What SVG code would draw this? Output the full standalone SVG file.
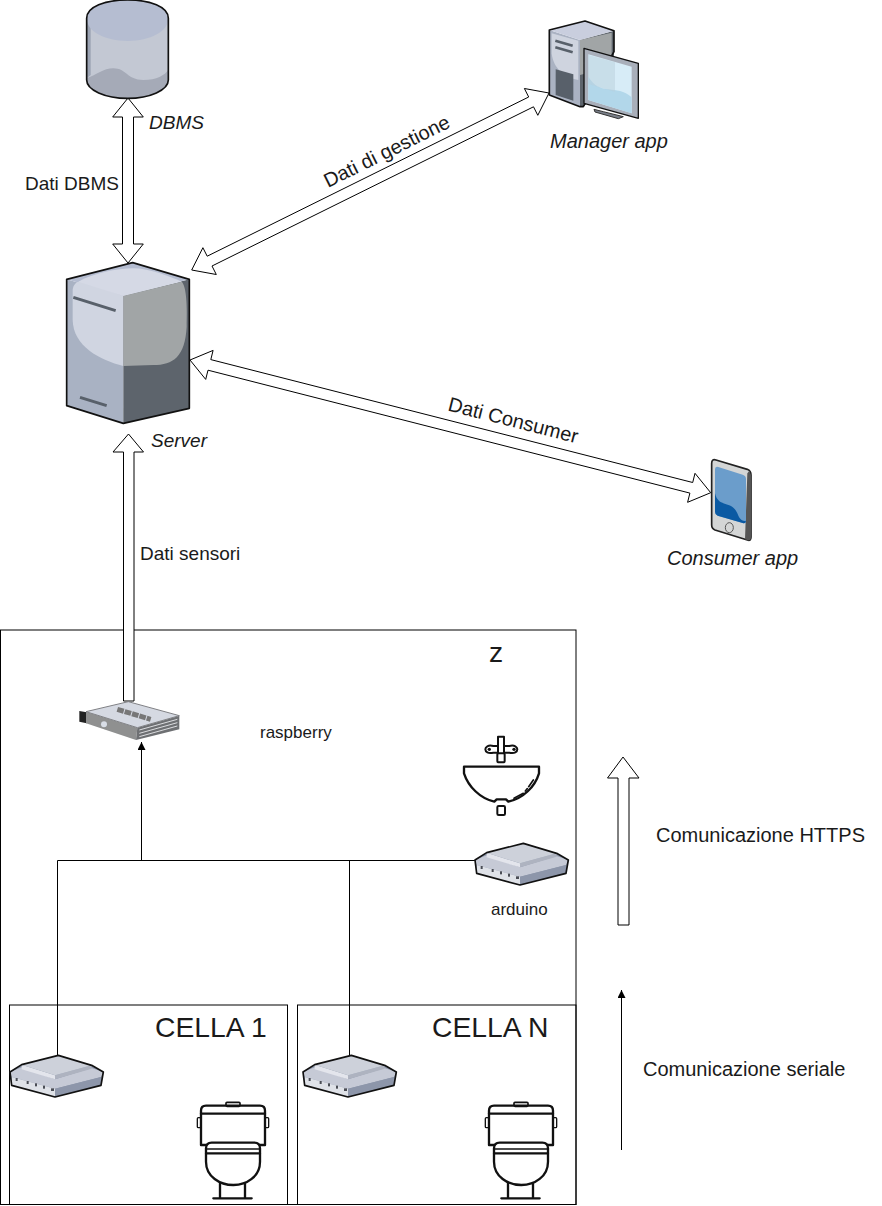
<svg xmlns="http://www.w3.org/2000/svg" width="882" height="1206" viewBox="0 0 882 1206">
<style>
text{font-family:"Liberation Sans",Arial,sans-serif;fill:#1a1a1a}
.t{font-size:20px}
.n{font-size:19px}
.i{font-size:20px;font-style:italic}
.j{font-size:19px;font-style:italic}
.s{font-size:17px}
.c{font-size:28.3px}
.box{fill:none;stroke:#000;stroke-width:1}
.flex{fill:#fff;stroke:#000;stroke-width:1;stroke-linejoin:miter}
.line{fill:none;stroke:#000;stroke-width:1}
.ic{fill:none;stroke:#111;stroke-width:7;stroke-linejoin:round;stroke-linecap:round}
.ol{fill:none;stroke:#111;stroke-width:5;stroke-linejoin:round}
</style>
<defs>
<marker id="ah" markerWidth="9" markerHeight="9" refX="8" refY="4" orient="auto" markerUnits="userSpaceOnUse"><path d="M0,0 L8,4 L0,8 Z" fill="#000"/></marker>
<g id="hub">
<path d="M105,390 L140,368 L250,340 L350,370 L385,390 L378,430 L240,465 L110,430 Z" fill="#8d96aa"/>
<polygon points="105,390 140,376 240,412 350,378 385,390 378,405 240,440 110,405" fill="#c6cad6"/>
<polygon points="110,405 240,440 240,465 110,430" fill="#dfe2e8"/>
<polygon points="240,440 378,405 378,430 240,465" fill="#8d96aa"/>
<polygon points="140,368 240,400 240,412 140,382" fill="#e3e5ec"/>
<polygon points="240,400 350,370 350,380 240,412" fill="#aeb3c0"/>
<polygon points="140,368 250,340 350,370 240,400" fill="#cdd1da"/>
<g fill="#4a4d55"><rect x="122" y="408" width="6" height="9"/><rect x="155" y="417" width="6" height="9"/><rect x="180" y="424" width="6" height="9"/><rect x="204" y="431" width="6" height="9"/><rect x="228" y="439" width="9" height="8"/></g>
<path d="M105,390 L140,368 L250,340 L350,370 L385,390 L378,430 L240,465 L110,430 Z" class="ol"/>
</g>
<g id="toilet">
<rect x="138" y="37" width="42" height="12" rx="3" class="ic" style="stroke-width:5"/>
<path d="M78,165 L63,165 L63,62 Q63,47 78,47 L240,47 Q255,47 255,62 L255,165 L240,165" class="ic"/>
<path d="M63,71 L255,71" class="ic"/>
<rect x="52" y="83" width="10" height="30" rx="3" class="ic" style="stroke-width:4"/>
<rect x="256" y="83" width="10" height="30" rx="3" class="ic" style="stroke-width:4"/>
<path d="M78,190 L78,175 Q78,158 95,158 L223,158 Q240,158 240,175 L240,190 Z" class="ic" fill="#fff"/>
<path d="M78,177 L240,177" class="ic" style="stroke-width:5"/>
<path d="M78,190 L78,215 C78,260 120,285 160,285 C200,285 240,260 240,215 L240,190" class="ic"/>
<path d="M120,280 L120,325 M195,280 L195,325 M100,325 L215,325" class="ic"/>
</g>
</defs>

<g id="containers">
<rect id="zone" x="0.5" y="630" width="575.5" height="574.5" class="box"/>
<rect id="cell1-box" x="9.5" y="1005" width="278" height="199.5" class="box"/>
<rect id="cellN-box" x="297.5" y="1005" width="278.5" height="199.5" class="box"/>
</g>

<g id="connectors">
<polygon class="flex" points="128,98 143.3,117 133.5,117 133.5,244 143.3,244 128,263 112.7,244 122.5,244 122.5,117 112.7,117"/>
<polygon class="flex" points="191.7,270 216.3,274.5 212,266 533.5,106.8 537.8,115.3 549,93 524.4,88.5 528.7,97 207.2,256.2 202.9,247.7"/>
<polygon class="flex" points="190,360 205.7,379.4 208,370.2 689.9,493.1 687.6,502.3 710.7,492.7 695,473.3 692.7,482.5 210.8,359.6 213.1,350.4"/>
<polygon class="flex" points="128.5,434 143.5,452 134,452 134,701 123.5,701 123.5,452 113,452"/>
<polygon class="flex" points="623,757 639,778 629,778 629,925 618,925 618,778 607.5,778"/>
<path class="line" d="M57.5,1055 L57.5,860.5 L475,860.5"/>
<path class="line" d="M349.5,1055 L349.5,860.5"/>
<path class="line" d="M141.5,860.5 L141.5,742" marker-end="url(#ah)"/>
<path class="line" d="M621.5,1150 L621.5,990" marker-end="url(#ah)"/>
</g>

<g id="dbms" transform="translate(40,0) scale(.33333)">
<path d="M140,55 C140,20 195,0 263,0 C330,0 385,20 385,55 L385,240 C385,270 330,295 263,295 C195,295 140,270 140,240 Z" fill="#c3c8d3"/>
<path d="M140,60 L152,80 L152,225 L140,235 Z" fill="#9ba3b3"/>
<path d="M140,235 C170,225 190,205 220,205 C260,205 260,240 310,240 C350,240 375,225 385,210 L385,240 C385,270 330,295 263,295 C195,295 140,270 140,240 Z" fill="#a5aab7"/>
<path d="M140,55 C140,20 195,0 263,0 C330,0 385,20 385,55 C385,95 330,123 263,123 C195,123 140,95 140,55 Z" fill="#b5bdd1"/>
<path d="M140,55 C140,20 195,0 263,0 C330,0 385,20 385,55 L385,240 C385,270 330,295 263,295 C195,295 140,270 140,240 Z" class="ol"/>
</g>
<g id="server" transform="translate(50,240) scale(.33333)">
<polygon points="50,118 220,168 220,550 50,497" fill="#a9b2c3"/>
<polygon points="220,168 418,118 418,505 220,550" fill="#5d646c"/>
<polygon points="50,118 248,68 418,118 220,168" fill="#b4bcd0"/>
<path d="M68,150 C70,128 85,122 100,125 L220,168 L220,378 C150,360 70,320 68,240 Z" fill="#d0d5e1"/>
<path d="M85,125 C130,100 200,85 250,85 C300,85 360,110 395,125 L220,168 Z" fill="#d5d9e5"/>
<path d="M220,168 L395,125 C410,140 412,200 410,260 C405,350 370,375 310,375 L220,378 Z" fill="#a1a5a6"/>
<path d="M70,172 L197,212 M90,472 L170,497" stroke="#58606a" stroke-width="9" fill="none"/>
<polygon points="50,118 248,68 418,118 418,505 220,550 50,497" class="ol"/>
</g>
<g id="manager" transform="translate(510,10) scale(.33333)">
<polygon points="118,60 210,90 210,290 118,255" fill="#aab2c2"/>
<path d="M125,70 L205,92 L205,210 C170,205 130,180 125,130 Z" fill="#cfd4df"/>
<polygon points="210,90 312,62 312,200 220,290 210,290" fill="#5d646c"/>
<path d="M210,90 L305,68 L305,170 L210,195 Z" fill="#a1a5a6"/>
<polygon points="118,60 225,33 312,62 210,90" fill="#c9cede"/>
<polygon points="137,178 190,193 190,272 137,255" fill="#58606a"/>
<path d="M136,92 L188,107 M136,112 L188,127" stroke="#58606a" stroke-width="8" fill="none"/>
<polygon points="118,60 225,33 312,62 312,125 220,290 210,290 118,255" class="ol"/>
<polygon points="252,298 280,305 340,320 325,326 255,306" fill="#7a808a" stroke="#333" stroke-width="3"/>
<polygon points="222,115 385,160 385,325 222,280" class="ol" style="fill:#a9afba;stroke-width:4"/>
<polygon points="235,133 365,170 365,310 235,270" fill="#d7ecf7"/>
<path d="M235,200 C270,260 320,220 365,262 L365,310 L235,270 Z" fill="#b2d7ea"/>
<polygon points="235,135 315,157 315,245 235,222" fill="#b9cfdb" opacity=".5"/>
</g>
<g id="consumer" transform="translate(660,450) scale(.33333)">
<path d="M155,40 Q155,26 168,30 L262,58 Q273,62 273,75 L273,262 Q273,274 262,270 L165,240 Q155,236 155,225 Z" fill="#d4d6d6" stroke="#222" stroke-width="5"/>
<path d="M268,62 L273,75 L273,262 Q273,274 262,270 L255,268 L262,70 Z" fill="#555"/>
<path d="M165,58 Q165,48 175,51 L248,74 Q258,77 258,87 L258,212 Q258,222 248,219 L173,197 Q165,194 165,185 Z" fill="#6b9dcb"/>
<path d="M165,130 C175,175 215,150 232,190 C240,212 250,215 258,212 Q258,222 248,219 L173,197 Q165,194 165,185 Z" fill="#0b5aa3"/>
<ellipse cx="208" cy="233" rx="12" ry="15" fill="none" stroke="#555" stroke-width="3"/>
</g>
<g id="raspberry" transform="translate(60,680) scale(.33333)">
<polygon points="58,93 80,97 80,130 58,125" fill="#222"/>
<polygon points="78,95 232,143 228,180 78,130" fill="#8f9090"/>
<polygon points="232,143 358,107 358,148 228,180" fill="#6e7073"/>
<polygon points="78,95 205,65 358,107 232,143" fill="#d5d9e2" stroke="#7e8084" stroke-width="3"/>
<path d="M238,150 L352,118 M238,160 L352,128 M238,170 L352,138" stroke="#dcdde0" stroke-width="3" fill="none"/>
<circle cx="132" cy="133" r="9" fill="#d8dde6"/>
<path d="M172,88 L272,118" stroke="#777" stroke-width="15" stroke-dasharray="20 3" fill="none"/>
</g>
<g id="arduino"><use href="#hub" transform="translate(440,730) scale(.33333)"/></g>
<g id="sensor-1"><use href="#hub" transform="translate(-25,942) scale(.33333)"/></g>
<g id="sensor-n"><use href="#hub" transform="translate(268,942) scale(.33333)"/></g>
<g id="sink" transform="translate(440,730) scale(.33333)">
<rect x="172" y="70" width="22" height="27" rx="3" class="ic" style="stroke-width:6"/>
<path d="M174,70 L174,20 M192,70 L192,20 M174,20 L192,20" class="ic" style="stroke-width:6"/>
<path d="M174,48 L160,48 C128,40 128,76 160,68 L174,68 M192,48 L208,48 C240,40 240,76 208,68 L192,68" class="ic" style="stroke-width:6"/>
<circle cx="148" cy="58" r="5" fill="#111"/><circle cx="222" cy="58" r="5" fill="#111"/>
<path d="M72,110 L297,110 L297,130 C285,170 250,205 205,215 L198,208 L170,208 L163,215 C120,205 85,170 72,130 Z" class="ic"/>
<path d="M222,205 L250,190 M256,183 L262,176 M266,170 L280,150" class="ic" style="stroke-width:5"/>
<rect x="172" y="228" width="23" height="27" rx="4" class="ic" style="stroke-width:6"/>
</g>
<g id="toilet-1"><use href="#toilet" transform="translate(180,1090) scale(.33333)"/></g>
<g id="toilet-n"><use href="#toilet" transform="translate(468,1090) scale(.33333)"/></g>

<g id="labels">
<text class="n" x="25" y="190">Dati DBMS</text>
<text class="j" x="149" y="129">DBMS</text>
<text class="i" x="550" y="148">Manager app</text>
<text class="j" x="151" y="447">Server</text>
<text class="i" x="667" y="565">Consumer app</text>
<text class="n" x="140" y="560">Dati sensori</text>
<text class="t" transform="translate(387,152) rotate(-26.4)" text-anchor="middle" dy="6">Dati di gestione</text>
<text class="t" transform="translate(513,421) rotate(14.3)" text-anchor="middle" dy="6">Dati Consumer</text>
<text class="c" x="489" y="662">z</text>
<text class="s" x="260" y="738">raspberry</text>
<text class="s" x="491" y="915">arduino</text>
<text class="c" x="155" y="1037">CELLA 1</text>
<text class="c" x="432" y="1037">CELLA N</text>
<text class="t" x="656" y="842">Comunicazione HTTPS</text>
<text class="t" x="643" y="1076">Comunicazione seriale</text>
</g>
</svg>
